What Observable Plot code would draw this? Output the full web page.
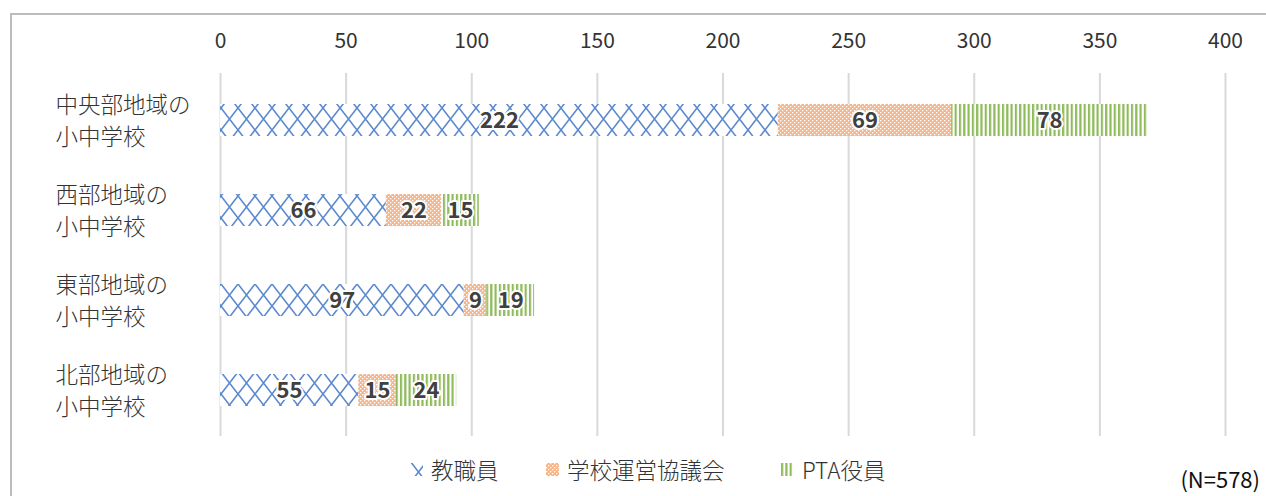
<!DOCTYPE html>
<html>
<head>
<meta charset="utf-8">
<script src="https://cdn.jsdelivr.net/npm/d3@7"></script>
<script src="https://cdn.jsdelivr.net/npm/@observablehq/plot@0.6"></script>
<style>
  html, body { margin: 0; padding: 0; background: #fff; width: 1266px; height: 496px; overflow: hidden; }
  body { position: relative; font-family: 'Noto Sans CJK JP', 'Noto Sans', sans-serif; }
  #frame { position: absolute; left: 10px; top: 13px; width: 1280px; height: 500px; border: 2px solid #bcbcbc; box-sizing: border-box; }
  #chart { position: absolute; left: 0; top: 0; }
  #legend { position: absolute; top: 453px; left: 0; width: 1266px; height: 32px; }
  .item { position: absolute; top: 0; display: flex; align-items: center; font-size: 22.5px; font-weight: 300; color: #333; white-space: nowrap; }
  .item svg { margin-right: 8px; }
  #note { position: absolute; right: 6px; top: 462px; font-size: 22px; color: #111; }
</style>
</head>
<body>
<svg width="0" height="0" style="position:absolute">
  <defs>
    <pattern id="pBlue" patternUnits="userSpaceOnUse" width="17" height="22" y="-2">
      <rect width="17" height="22" fill="#fff"/>
      <path d="M0,0L17,22M17,0L0,22" stroke="#5a89cf" stroke-width="1.6" fill="none"/>
    </pattern>
    <pattern id="pOrange" patternUnits="userSpaceOnUse" width="4" height="4">
      <rect width="4" height="4" fill="#f6b68a"/>
      <rect x="0" y="0" width="1.3" height="1.3" fill="#fff"/>
      <rect x="2" y="2" width="1.3" height="1.3" fill="#fff"/>
    </pattern>
    <pattern id="pGreen" patternUnits="userSpaceOnUse" width="4.3" height="10">
      <rect width="4.3" height="10" fill="#fff"/>
      <rect x="0" y="0" width="2.2" height="10" fill="#8fbb5c"/>
    </pattern>
  </defs>
</svg>
<div id="frame"></div>
<div id="chart"></div>
<div id="legend"></div>
<div id="note">(N=578)</div>
<script>
const regions = ["中央部地域の\n小中学校", "西部地域の\n小中学校", "東部地域の\n小中学校", "北部地域の\n小中学校"];
const seriesNames = ["教職員", "学校運営協議会", "PTA役員"];
const staff = [222, 66, 97, 55];
const council = [69, 22, 9, 15];
const pta = [78, 15, 19, 24];
const xTicks = [0, 50, 100, 150, 200, 250, 300, 350, 400];
const patterns = ["url(#pBlue)", "url(#pOrange)", "url(#pGreen)"];

const seriesValues = [staff, council, pta];
const rows = [];
regions.forEach((r, i) => {
  seriesNames.forEach((s, j) => rows.push({region: r, series: s, value: seriesValues[j][i]}));
});

const font = "'Noto Sans CJK JP', 'Noto Sans', sans-serif";

const chart = Plot.plot({
  width: 1266,
  height: 443,
  marginLeft: 220,
  marginRight: 41,
  marginTop: 73,
  marginBottom: 7,
  style: {fontFamily: font, background: "transparent", overflow: "visible"},
  x: {domain: [0, 400], axis: null, label: null},
  y: {domain: regions, axis: null, label: null, paddingInner: 0.647, paddingOuter: 0.3235},
  color: {domain: seriesNames, range: patterns},
  marks: [
    Plot.gridX(xTicks, {stroke: "#d9d9d9", strokeOpacity: 1, strokeWidth: 2}),
    Plot.axisX(xTicks, {anchor: "top", label: null, tickSize: 0, tickPadding: 26, fontSize: 21, fill: "#333", tickFormat: d => String(d)}),
    Plot.barX(rows, Plot.stackX({x: "value", y: "region", fill: "series", order: seriesNames})),
    Plot.text(rows, Plot.stackX({x: "value", y: "region", z: "series", order: seriesNames,
      text: d => String(d.value), fill: "#404040", stroke: "#fff", strokeWidth: 4,
      fontSize: 22, fontWeight: "bold"})),
    Plot.text(regions, {y: d => d, text: d => d, frameAnchor: "left", dx: -165, dy: -2, textAnchor: "start",
      fontSize: 22.5, fontWeight: 300, lineHeight: 1.42, fill: "#333"})
  ]
});
document.getElementById("chart").appendChild(chart);

// Legend
const legend = document.getElementById("legend");
const legendX = [410, 546, 781];
seriesNames.forEach((s, i) => {
  const item = document.createElement("div");
  item.className = "item";
  item.style.left = legendX[i] + "px";
  item.innerHTML = `<svg width="13" height="13"><rect width="13" height="13" fill="${patterns[i]}"/></svg><span>${s}</span>`;
  legend.appendChild(item);
});
</script>
</body>
</html>
